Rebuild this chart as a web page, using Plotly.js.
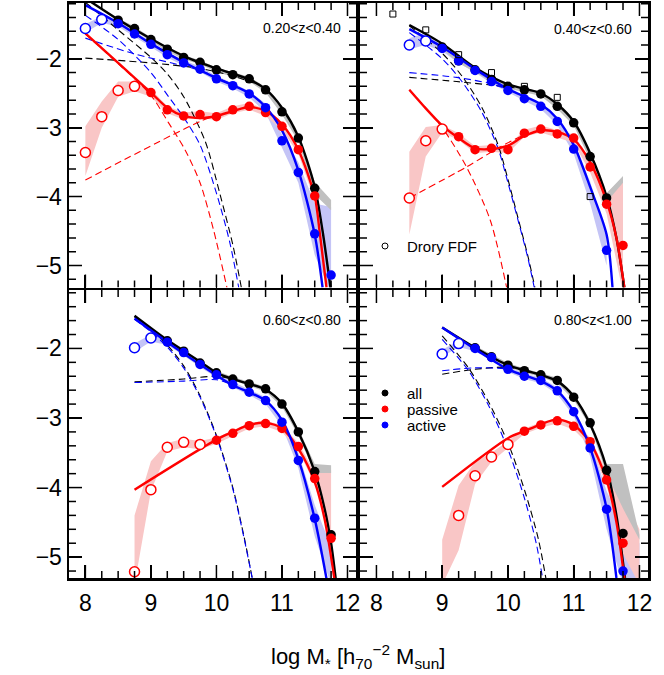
<!DOCTYPE html>
<html><head><meta charset="utf-8">
<script src="https://cdn.plot.ly/plotly-3.0.1.min.js"></script>
<style>body{margin:0;padding:0;background:#fff}#chart{width:664px;height:675px}</style>
</head><body><div id="chart"></div><script>
// ---------- Panel 1: 0.20<z<0.40 ----------
const p1_label = "0.20<z<0.40";
const p1_all_x = [8.5,8.75,9.0,9.25,9.5,9.75,10.0,10.25,10.5,10.75,11.0,11.25,11.5];
const p1_all_y = [-1.44,-1.56,-1.72,-1.86,-1.98,-2.05,-2.16,-2.23,-2.29,-2.45,-2.77,-3.15,-3.88];
const p1_act_x = [8.0,8.25,8.5,8.75,9.0,9.25,9.5,9.75,10.0,10.25,10.5,10.75,11.0,11.25,11.5,11.75];
const p1_act_y = [-1.56,-1.43,-1.49,-1.64,-1.79,-1.94,-2.06,-2.15,-2.29,-2.39,-2.51,-2.71,-3.19,-3.65,-4.54,-5.14];
const p1_act_open = 2;
const p1_pas_x = [8.0,8.25,8.5,8.75,9.0,9.25,9.5,9.75,10.0,10.25,10.5,10.75,11.0,11.25,11.5];
const p1_pas_y = [-3.36,-2.84,-2.46,-2.40,-2.49,-2.74,-2.83,-2.81,-2.84,-2.74,-2.69,-2.78,-2.98,-3.32,-3.99];
const p1_pas_open = 4;
const p1_all_fx = [8.0,8.5,9.0,9.5,10.0,10.5,10.75,11.0,11.25,11.5,11.62,11.74];
const p1_all_fy = [-1.12,-1.43,-1.71,-1.96,-2.14,-2.30,-2.44,-2.71,-3.13,-3.86,-4.5,-5.32];
const p1_act_fx = [8.0,8.5,9.0,9.5,10.0,10.5,10.75,11.0,11.25,11.5,11.62];
const p1_act_fy = [-1.22,-1.48,-1.78,-2.05,-2.28,-2.50,-2.70,-3.04,-3.62,-4.55,-5.32];
const p1_pas_fx = [8.0,8.5,9.0,9.25,9.5,9.75,10.0,10.25,10.5,10.75,11.0,11.25,11.5,11.58,11.68];
const p1_pas_fy = [-1.63,-2.06,-2.49,-2.71,-2.83,-2.86,-2.83,-2.76,-2.70,-2.76,-2.95,-3.32,-4.0,-4.55,-5.32];
const p1_all_d1x = [8.0,9.0,9.75,10.25,10.6];
const p1_all_d1y = [-1.99,-2.06,-2.14,-2.25,-2.36];
const p1_all_d2x = [8.0,8.5,9.0,9.25,9.5,9.83,10.05,10.25,10.38];
const p1_all_d2y = [-1.18,-1.58,-1.98,-2.22,-2.55,-3.2,-3.95,-4.7,-5.32];
const p1_act_d1x = [8.0,8.75,9.72,10.1,10.4];
const p1_act_d1y = [-1.70,-1.93,-2.16,-2.31,-2.45];
const p1_act_d2x = [8.0,8.5,9.0,9.27,9.5,9.75,10.0,10.2,10.34];
const p1_act_d2y = [-1.37,-1.72,-2.2,-2.55,-2.85,-3.25,-3.95,-4.65,-5.32];
const p1_pas_d1x = [8.0,9.75,10.1];
const p1_pas_d1y = [-3.76,-2.91,-2.79];
const p1_pas_d2x = [8.0,8.5,9.0,9.27,9.52,9.75,9.96,10.16];
const p1_pas_d2y = [-1.64,-2.07,-2.53,-2.93,-3.32,-3.80,-4.5,-5.32];
const p1_all_bx = [8.5,8.75,9.0,9.25,9.5,9.75,10.0,10.25,10.5,10.75,11.0,11.25,11.5,11.75];
const p1_all_blo = [-1.47,-1.59,-1.75,-1.89,-2.01,-2.08,-2.19,-2.26,-2.33,-2.49,-2.81,-3.20,-3.97,-4.20];
const p1_all_bhi = [-1.41,-1.53,-1.69,-1.83,-1.95,-2.02,-2.13,-2.20,-2.26,-2.41,-2.73,-3.10,-3.79,-4.05];
const p1_act_bx = [8.0,8.25,8.5,8.75,9.0,9.25,9.5,9.75,10.0,10.25,10.5,10.75,11.0,11.25,11.5,11.75];
const p1_act_blo = [-1.62,-1.48,-1.53,-1.68,-1.83,-1.98,-2.10,-2.19,-2.33,-2.43,-2.56,-2.78,-3.28,-3.80,-4.85,-5.40];
const p1_act_bhi = [-1.50,-1.38,-1.45,-1.60,-1.75,-1.90,-2.02,-2.11,-2.25,-2.35,-2.47,-2.65,-3.10,-3.50,-4.10,-4.15];
const p1_pas_bx = [8.0,8.25,8.5,8.75,9.0,9.25,9.5,9.75,10.0,10.25,10.5,10.75,11.0,11.25,11.5];
const p1_pas_blo = [-3.70,-3.00,-2.55,-2.47,-2.55,-2.79,-2.88,-2.86,-2.89,-2.79,-2.74,-2.83,-3.03,-3.38,-4.06];
const p1_pas_bhi = [-2.98,-2.62,-2.33,-2.33,-2.44,-2.69,-2.78,-2.76,-2.79,-2.69,-2.64,-2.73,-2.93,-3.27,-3.93];

// ---------- Panel 2: 0.40<z<0.60 ----------
const p2_label = "0.40<z<0.60";
const p2_all_x = [9.0,9.25,9.5,9.75,10.0,10.25,10.5,10.75,11.0,11.25,11.5];
const p2_all_y = [-1.83,-2.03,-2.16,-2.30,-2.40,-2.45,-2.51,-2.69,-2.93,-3.42,-4.02];
const p2_act_x = [8.5,8.75,9.0,9.25,9.5,9.75,10.0,10.25,10.5,10.75,11.0,11.5];
const p2_act_y = [-1.80,-1.74,-1.85,-2.03,-2.17,-2.33,-2.46,-2.58,-2.69,-2.91,-3.31,-4.78];
const p2_act_open = 2;
const p2_pas_x = [8.5,8.75,9.0,9.25,9.5,9.75,10.0,10.25,10.5,10.75,11.0,11.25,11.5,11.75];
const p2_pas_y = [-4.02,-3.19,-3.02,-3.13,-3.32,-3.30,-3.32,-3.08,-3.02,-3.09,-3.15,-3.57,-4.11,-4.71];
const p2_pas_open = 3;
const p2_fdf_x = [8.25,8.75,9.25,9.75,10.25,10.75,11.25];
const p2_fdf_y = [-1.35,-1.58,-1.94,-2.20,-2.40,-2.56,-4.00];
const p2_all_fx = [8.5,9.0,9.5,10.0,10.5,10.75,11.0,11.25,11.5,11.65,11.77];
const p2_all_fy = [-1.51,-1.78,-2.13,-2.37,-2.50,-2.66,-2.91,-3.37,-4.0,-4.6,-5.32];
const p2_act_fx = [8.5,9.0,9.5,10.0,10.5,10.75,11.0,11.25,11.5,11.59];
const p2_act_fy = [-1.57,-1.83,-2.15,-2.44,-2.66,-2.87,-3.25,-3.86,-4.55,-5.32];
const p2_pas_fx = [8.5,8.75,9.0,9.25,9.5,9.75,10.0,10.25,10.5,10.75,11.0,11.25,11.5,11.65,11.77];
const p2_pas_fy = [-2.45,-2.72,-2.97,-3.15,-3.30,-3.31,-3.26,-3.12,-3.04,-3.06,-3.17,-3.50,-4.07,-4.6,-5.32];
const p2_all_d1x = [8.5,9.22,9.73,10.1];
const p2_all_d1y = [-2.27,-2.33,-2.38,-2.42];
const p2_all_d2x = [8.5,9.0,9.3,9.6,9.85,10.0,10.15,10.3,10.41];
const p2_all_d2y = [-1.52,-1.92,-2.25,-2.7,-3.25,-3.75,-4.3,-4.85,-5.32];
const p2_act_d1x = [8.5,9.22,9.73,10.1];
const p2_act_d1y = [-2.20,-2.27,-2.36,-2.48];
const p2_act_d2x = [8.5,9.0,9.3,9.6,9.85,10.0,10.15,10.3,10.40];
const p2_act_d2y = [-1.62,-2.0,-2.33,-2.77,-3.3,-3.8,-4.33,-4.88,-5.32];
const p2_pas_d1x = [8.5,9.37,9.88,10.25];
const p2_pas_d1y = [-4.02,-3.57,-3.28,-3.1];
const p2_pas_d2x = [8.5,9.0,9.37,9.73,9.98];
const p2_pas_d2y = [-2.45,-3.0,-3.57,-4.34,-5.32];
const p2_all_bx = [9.0,9.25,9.5,9.75,10.0,10.25,10.5,10.75,11.0,11.25,11.5,11.75];
const p2_all_blo = [-1.86,-2.06,-2.19,-2.33,-2.43,-2.48,-2.54,-2.73,-2.97,-3.47,-4.08,-3.80];
const p2_all_bhi = [-1.80,-2.00,-2.13,-2.27,-2.37,-2.42,-2.48,-2.65,-2.89,-3.37,-3.95,-3.70];
const p2_act_bx = [8.5,8.75,9.0,9.25,9.5,9.75,10.0,10.25,10.5,10.75,11.0,11.25,11.5];
const p2_act_blo = [-1.86,-1.80,-1.89,-2.06,-2.20,-2.36,-2.49,-2.61,-2.73,-2.96,-3.38,-4.10,-5.00];
const p2_act_bhi = [-1.70,-1.62,-1.81,-2.00,-2.14,-2.30,-2.43,-2.55,-2.65,-2.86,-3.24,-3.78,-4.55];
const p2_pas_bx = [8.5,8.75,9.0,9.25,9.5,9.75,10.0,10.25,10.5,10.75,11.0,11.25,11.5,11.75];
const p2_pas_blo = [-4.55,-3.42,-3.07,-3.18,-3.37,-3.35,-3.37,-3.13,-3.07,-3.14,-3.22,-3.65,-4.25,-5.40];
const p2_pas_bhi = [-3.35,-2.99,-2.96,-3.08,-3.27,-3.25,-3.27,-3.03,-2.97,-3.04,-3.10,-3.48,-3.95,-3.72];

// ---------- Panel 3: 0.60<z<0.80 ----------
const p3_label = "0.60<z<0.80";
const p3_all_x = [9.25,9.5,9.75,10.0,10.25,10.5,10.75,11.0,11.25,11.5,11.75];
const p3_all_y = [-1.89,-2.04,-2.21,-2.35,-2.44,-2.51,-2.58,-2.80,-3.20,-3.77,-4.68];
const p3_act_x = [8.75,9.0,9.25,9.5,9.75,10.0,10.25,10.5,10.75,11.0,11.25,11.5];
const p3_act_y = [-1.99,-1.85,-1.91,-2.06,-2.23,-2.38,-2.52,-2.63,-2.75,-3.06,-3.61,-4.44];
const p3_act_open = 2;
const p3_pas_x = [8.75,9.0,9.25,9.5,9.75,10.0,10.25,10.5,10.75,11.0,11.25,11.5,11.75];
const p3_pas_y = [-5.21,-4.03,-3.42,-3.35,-3.38,-3.32,-3.22,-3.11,-3.08,-3.15,-3.41,-3.87,-4.73];
const p3_pas_open = 5;
const p3_all_fx = [8.75,9.25,9.75,10.0,10.25,10.5,10.75,11.0,11.25,11.5,11.65,11.75,11.82];
const p3_all_fy = [-1.53,-1.88,-2.19,-2.35,-2.44,-2.51,-2.59,-2.79,-3.20,-3.77,-4.3,-4.8,-5.31];
const p3_act_fx = [8.75,9.25,9.75,10.25,10.5,10.75,11.0,11.25,11.5,11.68];
const p3_act_fy = [-1.57,-1.91,-2.23,-2.53,-2.63,-2.75,-3.03,-3.59,-4.45,-5.31];
const p3_pas_fx = [8.75,10.0,10.25,10.5,10.75,11.0,11.25,11.5,11.65,11.80];
const p3_pas_fy = [-4.03,-3.31,-3.20,-3.10,-3.07,-3.15,-3.44,-3.92,-4.45,-5.31];
const p3_all_d1x = [8.75,9.5,10.0,10.3];
const p3_all_d1y = [-2.48,-2.44,-2.40,-2.45];
const p3_all_d2x = [8.75,9.0,9.25,9.5,9.75,10.0,10.25,10.42,10.55];
const p3_all_d2y = [-1.55,-1.73,-1.95,-2.25,-2.68,-3.25,-4.0,-4.7,-5.32];
const p3_act_d1x = [8.75,9.5,10.0,10.3];
const p3_act_d1y = [-2.49,-2.47,-2.45,-2.54];
const p3_act_d2x = [8.75,9.0,9.25,9.5,9.75,10.0,10.25,10.42,10.55];
const p3_act_d2y = [-1.58,-1.76,-1.98,-2.28,-2.7,-3.27,-4.02,-4.72,-5.32];
const p3_all_bx = [9.25,9.5,9.75,10.0,10.25,10.5,10.75,11.0,11.25,11.5,11.75];
const p3_all_blo = [-1.92,-2.07,-2.24,-2.38,-2.47,-2.54,-2.62,-2.84,-3.25,-3.79,-3.79];
const p3_all_bhi = [-1.86,-2.01,-2.18,-2.32,-2.41,-2.48,-2.55,-2.76,-3.15,-3.66,-3.68];
const p3_act_bx = [8.75,9.0,9.25,9.5,9.75,10.0,10.25,10.5,10.75,11.0,11.25,11.5,11.75];
const p3_act_blo = [-2.05,-1.90,-1.95,-2.10,-2.27,-2.42,-2.56,-2.67,-2.80,-3.12,-3.72,-4.70,-5.40];
const p3_act_bhi = [-1.93,-1.80,-1.87,-2.02,-2.19,-2.34,-2.48,-2.59,-2.70,-3.00,-3.50,-4.25,-4.85];
const p3_pas_bx = [8.75,9.0,9.25,9.5,9.75,10.0,10.25,10.5,10.75,11.0,11.25,11.5,11.75];
const p3_pas_blo = [-5.40,-4.05,-3.48,-3.42,-3.45,-3.37,-3.26,-3.15,-3.12,-3.20,-3.47,-3.95,-4.65];
const p3_pas_bhi = [-4.40,-3.62,-3.36,-3.30,-3.33,-3.28,-3.18,-3.07,-3.04,-3.10,-3.36,-3.78,-3.75];

// ---------- Panel 4: 0.80<z<1.00 ----------
const p4_label = "0.80<z<1.00";
const p4_all_x = [9.5,9.75,10.0,10.25,10.5,10.75,11.0,11.25,11.5,11.75];
const p4_all_y = [-1.99,-2.12,-2.24,-2.32,-2.38,-2.46,-2.70,-3.07,-3.75,-4.66];
const p4_act_x = [9.0,9.25,9.5,9.75,10.0,10.25,10.5,10.75,11.0,11.25,11.5,11.75];
const p4_act_y = [-2.08,-1.93,-2.00,-2.13,-2.30,-2.40,-2.46,-2.61,-2.91,-3.43,-4.31,-5.20];
const p4_act_open = 2;
const p4_pas_x = [9.25,9.5,9.75,10.0,10.25,10.5,10.75,11.0,11.25,11.5,11.75];
const p4_pas_y = [-4.40,-3.83,-3.56,-3.38,-3.19,-3.10,-3.04,-3.12,-3.34,-3.89,-4.80];
const p4_pas_open = 4;
const p4_all_fx = [9.0,9.5,10.0,10.5,10.75,11.0,11.25,11.5,11.65,11.78];
const p4_all_fy = [-1.70,-1.99,-2.24,-2.38,-2.47,-2.69,-3.09,-3.72,-4.4,-5.30];
const p4_act_fx = [9.0,9.5,10.0,10.5,10.75,11.0,11.25,11.5,11.65];
const p4_act_fy = [-1.70,-2.01,-2.30,-2.47,-2.61,-2.91,-3.43,-4.30,-5.30];
const p4_pas_fx = [9.0,10.0,10.25,10.5,10.75,11.0,11.25,11.5,11.65,11.77];
const p4_pas_fy = [-3.99,-3.29,-3.19,-3.09,-3.02,-3.10,-3.35,-3.89,-4.5,-5.30];
const p4_all_d1x = [9.0,9.5,10.0,10.3];
const p4_all_d1y = [-2.37,-2.30,-2.27,-2.33];
const p4_all_d2x = [9.0,9.4,9.7,10.01,10.26,10.46,10.58];
const p4_all_d2y = [-1.82,-2.28,-2.76,-3.38,-4.06,-4.73,-5.32];
const p4_act_d1x = [9.0,9.5,10.0,10.3];
const p4_act_d1y = [-2.32,-2.28,-2.30,-2.42];
const p4_act_d2x = [9.0,9.4,9.7,10.0,10.25,10.43,10.53];
const p4_act_d2y = [-1.87,-2.32,-2.81,-3.45,-4.15,-4.8,-5.32];
const p4_all_bx = [9.5,9.75,10.0,10.25,10.5,10.75,11.0,11.25,11.5,11.75,12.0];
const p4_all_blo = [-2.02,-2.15,-2.27,-2.35,-2.41,-2.50,-2.74,-3.12,-3.80,-4.30,-4.75];
const p4_all_bhi = [-1.96,-2.09,-2.21,-2.29,-2.35,-2.42,-2.66,-3.02,-3.66,-3.66,-4.68];
const p4_act_bx = [9.0,9.25,9.5,9.75,10.0,10.25,10.5,10.75,11.0,11.25,11.5,11.75,12.0];
const p4_act_blo = [-2.12,-1.98,-2.04,-2.17,-2.34,-2.44,-2.50,-2.66,-2.97,-3.55,-4.60,-5.40,-5.40];
const p4_act_bhi = [-2.02,-1.89,-1.97,-2.09,-2.26,-2.36,-2.42,-2.56,-2.86,-3.33,-4.05,-4.55,-4.80];
const p4_pas_bx = [9.0,9.25,9.5,9.75,10.0,10.25,10.5,10.75,11.0,11.25,11.5,11.75,12.0];
const p4_pas_blo = [-5.40,-4.90,-3.95,-3.63,-3.43,-3.23,-3.14,-3.08,-3.17,-3.40,-3.97,-4.95,-5.40];
const p4_pas_bhi = [-4.75,-3.97,-3.63,-3.50,-3.33,-3.15,-3.06,-3.00,-3.07,-3.28,-3.77,-4.10,-4.60];

const legend_names = ["all","passive","active"];
const fdf_name = "Drory FDF";
const xTitle = "log M<sub>*</sub> [h<sub>70</sub><sup>−2</sup> M<sub>sun</sub>]";

// ---------- styling ----------
const W = 664, H = 675;
const FONT = "Liberation Sans, Arial, Helvetica, sans-serif";
const C = {all:"#000000", pas:"#ff0000", act:"#0000ff"};
const BAND = {all:"rgb(192,192,192)", pas:"rgb(249,198,198)", act:"rgb(196,196,246)"};
const traces = [];

function band(xa, ya, bx, lo, hi, col){
  traces.push({x: bx.concat(bx.slice().reverse()), y: hi.concat(lo.slice().reverse()),
    mode:"lines", fill:"toself", fillcolor: col, line:{width:0, color:col},
    xaxis:xa, yaxis:ya, hoverinfo:"skip"});
}
function curve(xa, ya, x, y, col, dashed){
  traces.push({x:x, y:y, mode:"lines", xaxis:xa, yaxis:ya, hoverinfo:"skip",
    line:{color:col, width: dashed?1.1:2.4, dash: dashed?"7px,4px":"solid", shape:"spline", smoothing:0.8}});
}
function points(xa, ya, x, y, col, nOpen){
  if (nOpen > 0) traces.push({x:x.slice(0,nOpen), y:y.slice(0,nOpen), mode:"markers", xaxis:xa, yaxis:ya,
    marker:{symbol:"circle", size:10, color:"white", line:{color:col, width:1.5}}, hoverinfo:"skip"});
  traces.push({x:x.slice(nOpen), y:y.slice(nOpen), mode:"markers", xaxis:xa, yaxis:ya,
    marker:{symbol:"circle", size:9.5, color:col, line:{width:0}}, hoverinfo:"skip"});
}
function panel(xa, ya, P){
  band(xa, ya, P.act_bx, P.act_blo, P.act_bhi, BAND.act);
  band(xa, ya, P.pas_bx, P.pas_blo, P.pas_bhi, BAND.pas);
  band(xa, ya, P.all_bx, P.all_blo, P.all_bhi, BAND.all);
  P.dashes.forEach(d => curve(xa, ya, d[0], d[1], d[2], true));
  curve(xa, ya, P.all_fx, P.all_fy, C.all, false);
  curve(xa, ya, P.pas_fx, P.pas_fy, C.pas, false);
  curve(xa, ya, P.act_fx, P.act_fy, C.act, false);
  points(xa, ya, P.all_x, P.all_y, C.all, 0);
  points(xa, ya, P.pas_x, P.pas_y, C.pas, P.pas_open);
  points(xa, ya, P.act_x, P.act_y, C.act, P.act_open);
}

panel("x","y",{all_bx:p1_all_bx,all_blo:p1_all_blo,all_bhi:p1_all_bhi,act_bx:p1_act_bx,act_blo:p1_act_blo,act_bhi:p1_act_bhi,
  pas_bx:p1_pas_bx,pas_blo:p1_pas_blo,pas_bhi:p1_pas_bhi,
  dashes:[[p1_all_d1x,p1_all_d1y,C.all],[p1_all_d2x,p1_all_d2y,C.all],[p1_act_d1x,p1_act_d1y,C.act],[p1_act_d2x,p1_act_d2y,C.act],[p1_pas_d1x,p1_pas_d1y,C.pas],[p1_pas_d2x,p1_pas_d2y,C.pas]],
  all_fx:p1_all_fx,all_fy:p1_all_fy,act_fx:p1_act_fx,act_fy:p1_act_fy,pas_fx:p1_pas_fx,pas_fy:p1_pas_fy,
  all_x:p1_all_x,all_y:p1_all_y,act_x:p1_act_x,act_y:p1_act_y,act_open:p1_act_open,pas_x:p1_pas_x,pas_y:p1_pas_y,pas_open:p1_pas_open});
panel("x2","y2",{all_bx:p2_all_bx,all_blo:p2_all_blo,all_bhi:p2_all_bhi,act_bx:p2_act_bx,act_blo:p2_act_blo,act_bhi:p2_act_bhi,
  pas_bx:p2_pas_bx,pas_blo:p2_pas_blo,pas_bhi:p2_pas_bhi,
  dashes:[[p2_all_d1x,p2_all_d1y,C.all],[p2_all_d2x,p2_all_d2y,C.all],[p2_act_d1x,p2_act_d1y,C.act],[p2_act_d2x,p2_act_d2y,C.act],[p2_pas_d1x,p2_pas_d1y,C.pas],[p2_pas_d2x,p2_pas_d2y,C.pas]],
  all_fx:p2_all_fx,all_fy:p2_all_fy,act_fx:p2_act_fx,act_fy:p2_act_fy,pas_fx:p2_pas_fx,pas_fy:p2_pas_fy,
  all_x:p2_all_x,all_y:p2_all_y,act_x:p2_act_x,act_y:p2_act_y,act_open:p2_act_open,pas_x:p2_pas_x,pas_y:p2_pas_y,pas_open:p2_pas_open});
traces.push({x:p2_fdf_x, y:p2_fdf_y, mode:"markers", xaxis:"x2", yaxis:"y2", hoverinfo:"skip",
  marker:{symbol:"square-open", size:6, color:"black", line:{width:1, color:"black"}}});
panel("x3","y3",{all_bx:p3_all_bx,all_blo:p3_all_blo,all_bhi:p3_all_bhi,act_bx:p3_act_bx,act_blo:p3_act_blo,act_bhi:p3_act_bhi,
  pas_bx:p3_pas_bx,pas_blo:p3_pas_blo,pas_bhi:p3_pas_bhi,
  dashes:[[p3_all_d1x,p3_all_d1y,C.all],[p3_all_d2x,p3_all_d2y,C.all],[p3_act_d1x,p3_act_d1y,C.act],[p3_act_d2x,p3_act_d2y,C.act]],
  all_fx:p3_all_fx,all_fy:p3_all_fy,act_fx:p3_act_fx,act_fy:p3_act_fy,pas_fx:p3_pas_fx,pas_fy:p3_pas_fy,
  all_x:p3_all_x,all_y:p3_all_y,act_x:p3_act_x,act_y:p3_act_y,act_open:p3_act_open,pas_x:p3_pas_x,pas_y:p3_pas_y,pas_open:p3_pas_open});
panel("x4","y4",{all_bx:p4_all_bx,all_blo:p4_all_blo,all_bhi:p4_all_bhi,act_bx:p4_act_bx,act_blo:p4_act_blo,act_bhi:p4_act_bhi,
  pas_bx:p4_pas_bx,pas_blo:p4_pas_blo,pas_bhi:p4_pas_bhi,
  dashes:[[p4_all_d1x,p4_all_d1y,C.all],[p4_all_d2x,p4_all_d2y,C.all],[p4_act_d1x,p4_act_d1y,C.act],[p4_act_d2x,p4_act_d2y,C.act]],
  all_fx:p4_all_fx,all_fy:p4_all_fy,act_fx:p4_act_fx,act_fy:p4_act_fy,pas_fx:p4_pas_fx,pas_fy:p4_pas_fy,
  all_x:p4_all_x,all_y:p4_all_y,act_x:p4_act_x,act_y:p4_act_y,act_open:p4_act_open,pas_x:p4_pas_x,pas_y:p4_pas_y,pas_open:p4_pas_open});

// ---------- axes ----------
const XR = [7.75,12.13], rT = [-5.32,-1.19], rB = [-5.30,-1.16];
const xL = [69/W, 356/W], xR = [360/W, 648/W];
const yT = [1-287.5/H, 1-3/H], yB = [1-578/H, 1-290/H];
function xax(domain, anchor, labels){
  return {domain:domain, anchor:anchor, range:XR, tick0:8, dtick:1, showticklabels:labels, ticklabelstandoff:3,
    ticks:"inside", ticklen:13, tickwidth:1.8, tickcolor:"black", showline:true, linewidth:2.5, linecolor:"black",
    mirror:"allticks", showgrid:false, zeroline:false, fixedrange:true,
    tickfont:{family:FONT, size:23, color:"black"}};
}
function yax(domain, anchor, labels, range){
  return {domain:domain, anchor:anchor, range:range, tick0:0, dtick:1, showticklabels:labels,
    ticks:"inside", ticklen:13, tickwidth:1.8, tickcolor:"black", showline:true, linewidth:2.5, linecolor:"black",
    mirror:"allticks", showgrid:false, zeroline:false, fixedrange:true,
    tickfont:{family:FONT, size:23, color:"black"}};
}

// tick marks on all four sides of each panel, drawn as line traces in axis units
// (major every 1, minor every 0.25 in x and 0.2 in y)
function isInt(v){ return Math.abs(v - Math.round(v)) < 1e-6; }
function tickMarks(xa, ya, yr, wPx, hPx){
  const dxPerPx = (XR[1]-XR[0])/wPx, dyPerPx = (yr[1]-yr[0])/hPx;
  const tx = [], ty = [];
  for (let k = 1; ; k++){
    const v = XR[0] + k*0.25; if (v >= XR[1]) break;
    const L = (isInt(v) ? 13 : 7) * dyPerPx;
    tx.push(v, v, null, v, v, null);
    ty.push(yr[0], yr[0]+L, null, yr[1], yr[1]-L, null);
  }
  for (let k = 0; ; k++){
    const v = Math.ceil(yr[0]/0.2 - 1e-9)*0.2 + k*0.2; if (v >= yr[1]) break;
    const L = (isInt(v) ? 13 : 7) * dxPerPx;
    tx.push(XR[0], XR[0]+L, null, XR[1], XR[1]-L, null);
    ty.push(v, v, null, v, v, null);
  }
  traces.push({x:tx, y:ty, mode:"lines", xaxis:xa, yaxis:ya, hoverinfo:"skip",
    line:{color:"black", width:1.5}, connectgaps:false});
}
tickMarks("x","y",rT,287,284.5);
tickMarks("x2","y2",rT,288,284.5);
tickMarks("x3","y3",rB,287,288);
tickMarks("x4","y4",rB,288,288);

function ann(text, px, py, xanchor, size){
  return {text:text, xref:"paper", yref:"paper", x:px/W, y:1-py/H, xanchor:xanchor, yanchor:"middle",
    showarrow:false, font:{family:FONT, size:size, color:"black"}};
}
function dot(px, py, r, fill, lineCol){
  return {type:"circle", xref:"paper", yref:"paper", x0:(px-r)/W, x1:(px+r)/W, y0:1-(py+r)/H, y1:1-(py-r)/H,
    fillcolor:fill, line:{color:lineCol, width:1}};
}

const layout = {
  width:W, height:H, margin:{l:0,r:0,t:0,b:0}, showlegend:false,
  paper_bgcolor:"white", plot_bgcolor:"white",
  xaxis:xax(xL,"y",false), yaxis:yax(yT,"x",true,rT),
  xaxis2:xax(xR,"y2",false), yaxis2:yax(yT,"x2",false,rT),
  xaxis3:xax(xL,"y3",true), yaxis3:yax(yB,"x3",true,rB),
  xaxis4:xax(xR,"y4",true), yaxis4:yax(yB,"x4",false,rB),
  annotations:[
    ann(p1_label, 343, 28, "right", 14),
    ann(p2_label, 634, 29, "right", 14),
    ann(p3_label, 343, 320, "right", 14),
    ann(p4_label, 634, 320, "right", 14),
    ann(fdf_name, 405, 246, "left", 15),
    ann(legend_names[0], 405, 393, "left", 15),
    ann(legend_names[1], 405, 409, "left", 15),
    ann(legend_names[2], 405, 425, "left", 15),
    ann(xTitle, 358, 656, "center", 22)
  ],
  shapes:[
    dot(385, 246, 3, "white", "black"), dot(385, 393, 3, C.all, C.all),
    dot(385, 409, 3, C.pas, C.pas), dot(385, 425, 3, C.act, C.act)
  ]
};
Plotly.newPlot("chart", traces, layout, {staticPlot:true, displayModeBar:false});
</script></body></html>
